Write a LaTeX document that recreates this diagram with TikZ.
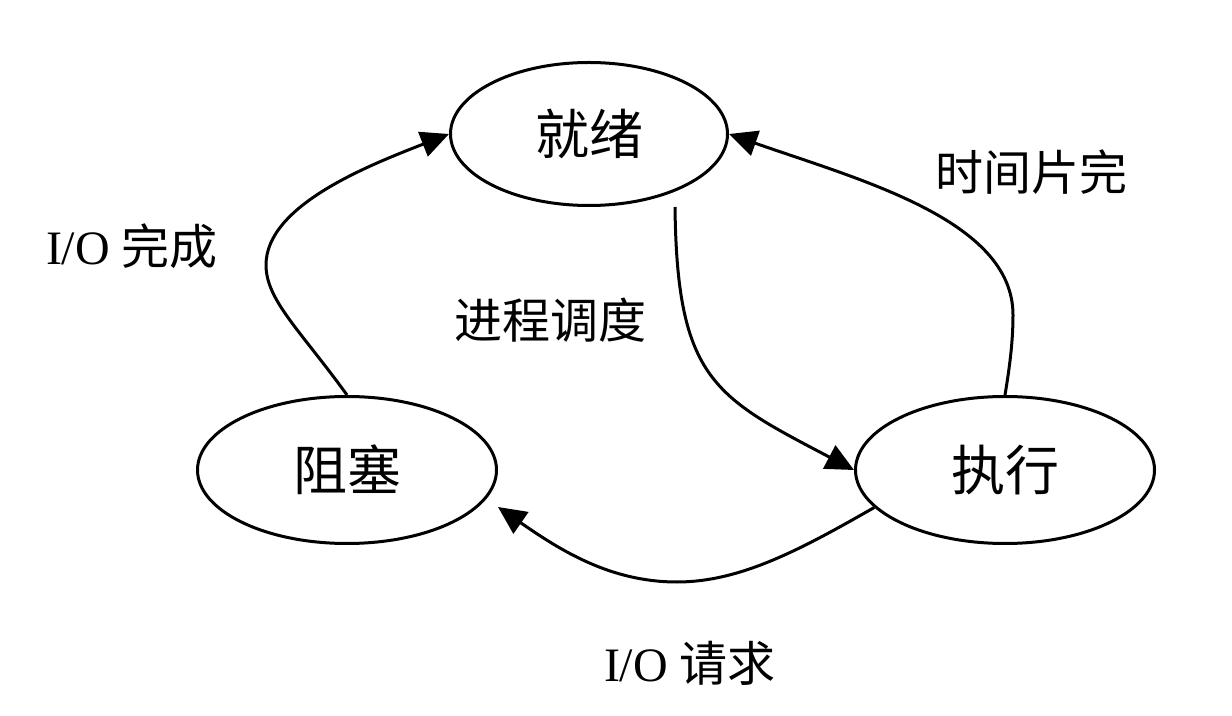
\documentclass[tikz,border=0pt]{standalone}
\usepackage{fontspec}
\setmainfont{Liberation Serif}
\newfontfamily\cjk{Noto Sans CJK SC}
\usetikzlibrary{positioning,shapes.geometric,arrows.meta}

\begin{document}
\begin{tikzpicture}[x=0.5pt, y=-0.5pt, on grid,
   state/.style = {draw, ellipse, line width=1.5pt, inner sep=0pt,
     minimum width=149.5pt, minimum height=73.5pt,
     font=\fontsize{27}{30}\selectfont\cjk},
   lbl/.style = {inner sep=0pt, font=\fontsize{24}{28}\selectfont},
   trans/.style = {line width=1.5pt, -{Triangle[length=14pt, width=13pt]}}]
   \useasboundingbox (0,0) rectangle (1232,716);
   \node[state, minimum width=138.5pt, minimum height=71.5pt] (ready) at (589,134) {就绪};
   \node[state, below left = 168pt and 121pt of ready] (blocked) {阻塞};
   \node[state, below right = 168pt and 208pt of ready] (running) {执行};
   \coordinate (from-ready) at ([xshift=43pt]ready.south);
   \coordinate (to-blocked) at ([yshift=-18.5pt]blocked.east);
   \draw[trans] (blocked.north) .. controls (300,330) and (266,300) .. (266,265)
      .. controls (266,205) and (370,165) .. (ready.west);
   \draw[trans] (from-ready) .. controls (677,380) and (715,397) .. (running.west);
   \draw[trans] (running.north) .. controls (1010,365) and (1013,340) .. (1013,315)
      .. controls (1013,220) and (860,180) .. (ready.east);
   \draw[trans] (running.196) .. controls (800,550) and (740,582) .. (677,582)
      .. controls (610,582) and (560,550) .. (to-blocked);
   \node[lbl] (io-done) at (132,246) {I/O {\cjk 完成}};
   \node[lbl] (dispatch) at (550,320) {\cjk 进程调度};
   \node[lbl] (timeout) at (1031,172) {\cjk 时间片完};
   \node[lbl] (io-req) at (690,663) {I/O {\cjk 请求}};
\end{tikzpicture}
\end{document}
